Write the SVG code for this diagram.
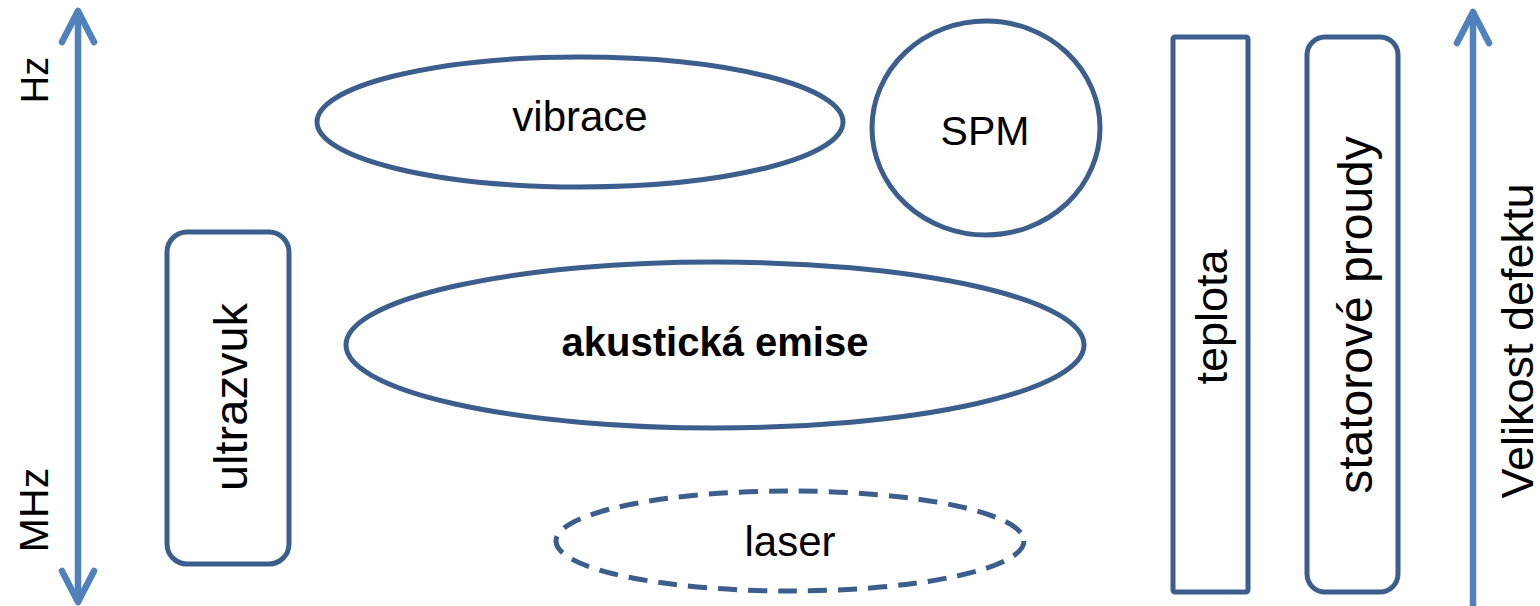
<svg xmlns="http://www.w3.org/2000/svg" width="1540" height="606" viewBox="0 0 1540 606">
<style>
.shape{fill:#FFFFFF;stroke:#3B5E8C;stroke-width:5}
.dash{stroke-dasharray:19,11}
.t{font-family:"Liberation Sans",Arial,sans-serif;fill:#000000;text-anchor:middle}
.axis{stroke:#4F81BD;stroke-width:6.5;fill:none}
</style>
<defs>
<marker id="head" viewBox="-40 -22 46 44" refX="0" refY="0" markerWidth="46" markerHeight="44" markerUnits="userSpaceOnUse" orient="auto-start-reverse" overflow="visible">
<path d="M-31,-16 L0,0 L-31,16" fill="none" stroke="#4F81BD" stroke-width="6.5" stroke-linecap="round" stroke-linejoin="round"/>
</marker>
</defs>
<g id="connectors">
<line class="axis" x1="78" y1="11" x2="78" y2="602" marker-start="url(#head)" marker-end="url(#head)"/>
<line class="axis" x1="1473" y1="12" x2="1473" y2="606" marker-start="url(#head)"/>
</g>
<g id="hz"><text class="t" font-size="38" transform="translate(48,80) rotate(-90)">Hz</text></g>
<g id="mhz"><text class="t" font-size="41" transform="translate(48,510) rotate(-90)">MHz</text></g>
<g id="vibrace">
<ellipse class="shape" cx="580" cy="122" rx="263" ry="65"/>
<text class="t" font-size="42" x="580" y="131">vibrace</text>
</g>
<g id="spm">
<ellipse class="shape" cx="986" cy="128" rx="114" ry="107"/>
<text class="t" font-size="41" x="985" y="145">SPM</text>
</g>
<g id="ultrazvuk">
<rect class="shape" x="167" y="232" width="122" height="332" rx="20"/>
<text class="t" font-size="47" transform="translate(247,397) rotate(-90)">ultrazvuk</text>
</g>
<g id="akusticka-emise">
<ellipse class="shape" cx="715" cy="345" rx="369" ry="83"/>
<text class="t" font-size="40" font-weight="bold" x="715" y="356">akustická emise</text>
</g>
<g id="laser">
<ellipse class="shape dash" cx="790" cy="541" rx="234" ry="50"/>
<text class="t" font-size="42" x="790" y="556">laser</text>
</g>
<g id="teplota">
<rect class="shape" x="1173" y="37" width="75" height="555" rx="2"/>
<text class="t" font-size="45" transform="translate(1227,317) rotate(-90)">teplota</text>
</g>
<g id="statorove-proudy">
<rect class="shape" x="1307" y="37" width="91" height="555" rx="18"/>
<text class="t" font-size="48" transform="translate(1372,315) rotate(-90)">statorové proudy</text>
</g>
<g id="velikost-defektu"><text class="t" font-size="45" transform="translate(1533,341) rotate(-90)">Velikost defektu</text></g>
</svg>
